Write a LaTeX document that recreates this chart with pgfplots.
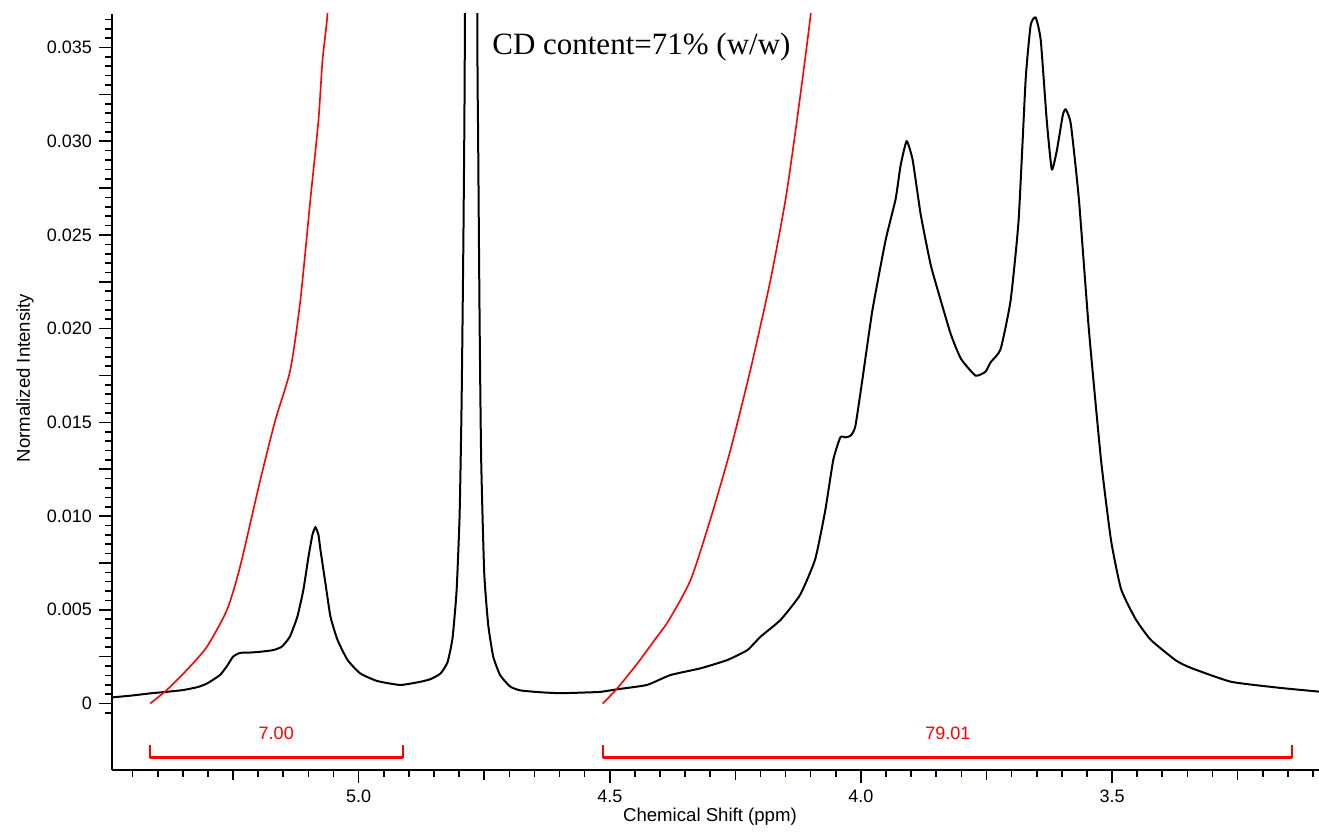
\documentclass[border=0pt]{standalone}
\usepackage{fontspec}
\setmainfont{Liberation Sans}
\newfontfamily\timesf{Liberation Serif}
\usepackage{pgfplots}
\usepackage{pgfplotstable}
\pgfplotsset{compat=1.18}

\pgfplotstableread{
ppm int
5.489 0.00033
5.45 0.00043
5.415 0.00054
5.38 0.00063
5.349 0.00072
5.32 0.00088
5.301 0.00108
5.276 0.00152
5.262 0.0020
5.250 0.0025
5.236 0.0027
5.216 0.00272
5.196 0.00276
5.170 0.00285
5.153 0.00303
5.137 0.00356
5.122 0.00463
5.110 0.00606
5.100 0.0078
5.092 0.0090
5.086 0.0094
5.080 0.0090
5.076 0.0082
5.066 0.0064
5.056 0.00463
5.042 0.00339
5.022 0.00232
4.997 0.00161
4.963 0.0012
4.917 0.00099
4.877 0.00116
4.857 0.0013
4.837 0.0016
4.823 0.0022
4.813 0.0035
4.805 0.006
4.799 0.010
4.795 0.016
4.791 0.026
4.788 0.040
4.784 0.12
4.778 0.3
4.770 0.3
4.766 0.12
4.764 0.040
4.762 0.030
4.759 0.020
4.756 0.013
4.750 0.007
4.742 0.0042
4.732 0.0025
4.718 0.0015
4.698 0.0009
4.678 0.0007
4.638 0.0006
4.598 0.00055
4.558 0.00058
4.519 0.00062
4.485 0.00076
4.426 0.00099
4.379 0.00152
4.319 0.00188
4.266 0.00232
4.226 0.00285
4.200 0.00356
4.160 0.00446
4.121 0.0058
4.091 0.0077
4.071 0.0103
4.055 0.013
4.041 0.0142
4.030 0.0142
4.020 0.0143
4.011 0.0148
3.997 0.0173
3.977 0.021
3.951 0.0247
3.931 0.0269
3.921 0.0287
3.909 0.0300
3.897 0.0290
3.881 0.0261
3.861 0.0234
3.841 0.0215
3.821 0.0197
3.801 0.0184
3.772 0.0175
3.752 0.0177
3.742 0.0182
3.722 0.0189
3.702 0.0215
3.686 0.0258
3.672 0.0333
3.662 0.0362
3.652 0.0366
3.642 0.0354
3.630 0.0311
3.620 0.0285
3.610 0.0295
3.598 0.0314
3.592 0.0317
3.582 0.0309
3.566 0.0269
3.546 0.0199
3.522 0.013
3.502 0.0087
3.482 0.0061
3.453 0.0045
3.423 0.0034
3.373 0.0023
3.343 0.0019
3.263 0.00116
3.164 0.00083
3.086 0.00063
}\spectrum

\pgfplotstableread{
ppm int
5.415 0
5.382 0.00072
5.342 0.00179
5.302 0.00303
5.262 0.0050
5.236 0.0073
5.196 0.0119
5.166 0.0151
5.136 0.0178
5.116 0.0215
5.096 0.0269
5.080 0.0311
5.072 0.0343
5.062 0.0368
5.050 0.042
}\integA

\pgfplotstableread{
ppm int
4.514 0
4.485 0.00081
4.445 0.00214
4.406 0.00356
4.382 0.00446
4.339 0.0066
4.300 0.0098
4.260 0.0135
4.220 0.0178
4.180 0.0226
4.150 0.0269
4.130 0.0306
4.114 0.0338
4.100 0.0368
4.090 0.040
}\integB

\begin{document}
\begin{tikzpicture}
\begin{axis}[
  name=ax,
  scale only axis,
  width=603.5pt, height=378pt,
  xmin=-5.491, xmax=-3.088,
  ymin=-0.003548, ymax=0.03679,
  axis x line*=bottom, axis y line*=left,
  axis line style={-, line width=1pt},
  tick align=outside,
  tick style={black, line width=0.8pt},
  major tick length=6.5pt,
  minor tick length=3.5pt,
  xtick={-5,-4.5,-4,-3.5},
  xticklabels={5.0,4.5,4.0,3.5},
  minor xtick={-5.45,-5.40,-5.35,-5.30,-5.25,-5.20,-5.15,-5.10,-5.05,-4.95,-4.90,-4.85,-4.80,-4.75,-4.70,-4.65,-4.60,-4.55,-4.45,-4.40,-4.35,-4.30,-4.25,-4.20,-4.15,-4.10,-4.05,-3.95,-3.90,-3.85,-3.80,-3.75,-3.70,-3.65,-3.60,-3.55,-3.45,-3.40,-3.35,-3.30,-3.25,-3.20,-3.15,-3.10},
  ytick={0,0.005,0.01,0.015,0.02,0.025,0.03,0.035},
  yticklabels={0,0.005,0.010,0.015,0.020,0.025,0.030,0.035},
  minor ytick={-0.0005,0.0005,0.001,0.0015,0.002,0.003,0.0035,0.004,0.0045,0.0055,0.006,0.0065,0.007,0.008,0.0085,0.009,0.0095,0.0105,0.011,0.0115,0.012,0.013,0.0135,0.014,0.0145,0.0155,0.016,0.0165,0.017,0.018,0.0185,0.019,0.0195,0.0205,0.021,0.0215,0.022,0.023,0.0235,0.024,0.0245,0.0255,0.026,0.0265,0.027,0.028,0.0285,0.029,0.0295,0.0305,0.031,0.0315,0.032,0.033,0.0335,0.034,0.0345,0.0355,0.036,0.0365},
  extra y ticks={0.0025,0.0075,0.0125,0.0175,0.0225,0.0275,0.0325},
  extra y tick labels={},
  extra x ticks={-5.25,-4.75,-4.25,-3.75,-3.25},
  extra x tick labels={},
  extra x tick style={major tick length=5pt},
  scaled y ticks=false, scaled x ticks=false,
  /pgf/number format/assume math mode=true,
  tick label style={font=\fontsize{9}{10}\selectfont, text=black},
  xlabel={Chemical Shift (ppm)},
  ylabel={Normalized Intensity},
  label style={font=\fontsize{9.3}{10}\selectfont},
  xlabel style={at={(axis description cs:0.4954,-0.0622)}, anchor=center},
  ylabel style={at={(axis description cs:-0.0721,0.5185)}, anchor=center},
  clip=true,
]
\addplot[black, line width=1pt, smooth, tension=0.3] table[x expr=-\thisrow{ppm}, y=int] {\spectrum};
\addplot[red, line width=0.8pt, smooth, tension=0.4] table[x expr=-\thisrow{ppm}, y=int] {\integA};
\addplot[red, line width=0.8pt, smooth, tension=0.4] table[x expr=-\thisrow{ppm}, y=int] {\integB};
% integration bars
\addplot[red, line width=1.6pt] coordinates {(-5.415,-0.00288) (-4.912,-0.00288)};
\addplot[red, line width=1pt] coordinates {(-5.415,-0.00220) (-5.415,-0.00292)};
\addplot[red, line width=1pt] coordinates {(-4.912,-0.00220) (-4.912,-0.00292)};
\addplot[red, line width=1.6pt] coordinates {(-4.514,-0.00288) (-3.141,-0.00288)};
\addplot[red, line width=1pt] coordinates {(-4.514,-0.00220) (-4.514,-0.00292)};
\addplot[red, line width=1pt] coordinates {(-3.141,-0.00220) (-3.141,-0.00292)};
\node[text=red, font=\fontsize{9}{10}\selectfont] at (axis cs:-5.164,-0.00157) {7.00};
\node[text=red, font=\fontsize{9}{10}\selectfont] at (axis cs:-3.827,-0.00157) {79.01};
\node[font=\timesf\fontsize{15.5}{17}\selectfont] at (axis cs:-4.437,0.0350) {CD content=71\% (w/w)};
\end{axis}
\pgfresetboundingbox
\path[use as bounding box] ([xshift=-56pt,yshift=-31pt]ax.south west) rectangle ([yshift=7pt]ax.north east);
\end{tikzpicture}
\end{document}
